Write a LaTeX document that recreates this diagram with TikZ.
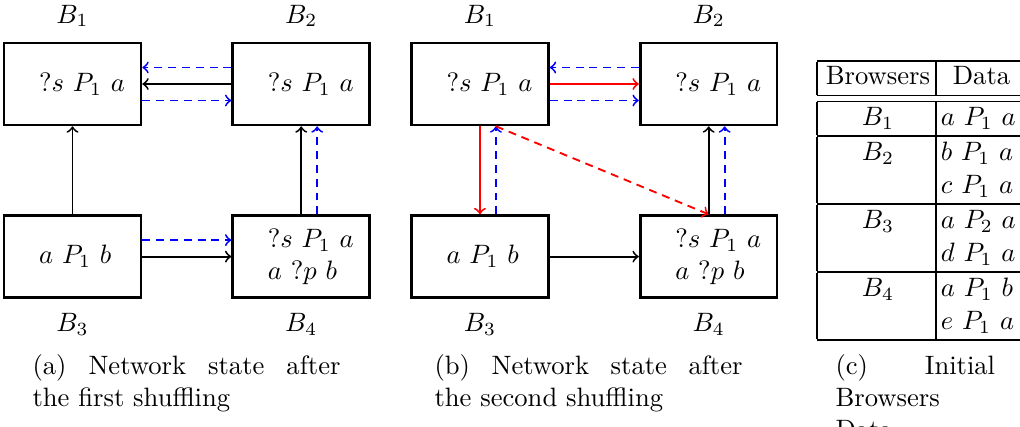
\documentclass[tikz,border=0pt]{standalone}
\usepackage{amsmath,amssymb}
\usepackage{tikz}
\usetikzlibrary{positioning}

\tikzset{
  brw/.style={draw, line width=1pt, minimum width=51.5pt, minimum height=30.8pt,
    text width=51.5pt, inner xsep=0pt, align=left},
  msg/.style={->, line width=0.7pt},
  shf/.style={->, line width=0.7pt, blue, dash pattern=on 3pt off 2.2pt},
  captxt/.style={anchor=north west, inner sep=0pt, align=justify}
}
\newcommand{\ind}{\hspace*{13.2pt}}

\begin{document}
\begin{tikzpicture}[x=0.376pt, y=-0.376pt]
  \useasboundingbox (0,0) rectangle (1020,426);

  % Define nodes (first shuffling)
  \node[brw]                     (a1) at (72.5,84) {\ind$?s\ P_1\ a$};
  \node[brw, right=33.5pt of a1] (a2) {\ind$?s\ P_1\ a$};
  \node[brw, below=33.1pt of a1] (a3) {\ind$a\ P_1\ b$};
  \node[brw, below=33.1pt of a2] (a4) {\ind$?s\ P_1\ a$\\\ind$a\ ?p\ b$};
  \node[above=2pt of a1] (la1) {$B_1$};
  \node[above=2pt of a2] (la2) {$B_2$};
  \node[below=2pt of a3] (la3) {$B_3$};
  \node[below=2pt of a4] (la4) {$B_4$};

  % Define nodes (second shuffling)
  \node[brw, right=14.7pt of a2] (b1) {\ind$?s\ P_1\ a$};
  \node[brw, right=33.5pt of b1] (b2) {\ind$?s\ P_1\ a$};
  \node[brw, below=33.1pt of b1] (b3) {\ind$a\ P_1\ b$};
  \node[brw, below=33.1pt of b2] (b4) {\ind$?s\ P_1\ a$\\\ind$a\ ?p\ b$};
  \node[above=2pt of b1] (lb1) {$B_1$};
  \node[above=2pt of b2] (lb2) {$B_2$};
  \node[below=2pt of b3] (lb3) {$B_3$};
  \node[below=2pt of b4] (lb4) {$B_4$};

  % Connect the nodes
  \draw[shf] ([yshift=6.2pt]a2.west) -- ([yshift=6.2pt]a1.east);
  \draw[msg] (a2) -- (a1);
  \draw[shf] ([yshift=-6.2pt]a1.east) -- ([yshift=-6.2pt]a2.west);
  \draw[msg] (a3) -- (a1);
  \draw[msg] (a4) -- (a2);
  \draw[shf] ([xshift=6pt]a4.north) -- ([xshift=6pt]a2.south);
  \draw[shf] ([yshift=6.2pt]a3.east) -- ([yshift=6.2pt]a4.west);
  \draw[msg] (a3) -- (a4);

  \draw[shf] ([yshift=6.2pt]b2.west) -- ([yshift=6.2pt]b1.east);
  \draw[msg, red] (b1) -- (b2);
  \draw[shf] ([yshift=-6.2pt]b1.east) -- ([yshift=-6.2pt]b2.west);
  \draw[msg, red] (b1) -- (b3);
  \draw[shf] ([xshift=6pt]b3.north) -- ([xshift=6pt]b1.south);
  \draw[msg, red, dash pattern=on 3pt off 2.2pt] ([xshift=6pt]b1.south) -- (b4.north);
  \draw[msg] (b4) -- (b2);
  \draw[shf] ([xshift=6pt]b4.north) -- ([xshift=6pt]b2.south);
  \draw[msg] (b3) -- (b4);

  % Initial data table
  \node[anchor=north west, inner sep=0pt] (tab) at (816.5,59.5) {%
    \setlength{\arrayrulewidth}{0.6pt}%
    \setlength{\doublerulesep}{2.2pt}%
    \renewcommand{\arraystretch}{1.04}%
    \begin{tabular}{|@{\hspace{3pt}}c@{\hspace{2.3pt}}|@{\hspace{1.5pt}}l@{\hspace{6pt}}|}
      \hline
      Browsers & \hspace{4.5pt}Data \\
      \hline\hline
      $B_1$ & $a\ P_1\ a$ \\
      \hline
      $B_2$ & $b\ P_1\ a$ \\
            & $c\ P_1\ a$ \\
      \hline
      $B_3$ & $a\ P_2\ a$ \\
            & $d\ P_1\ a$ \\
      \hline
      $B_4$ & $a\ P_1\ b$ \\
            & $e\ P_1\ a$ \\
      \hline
    \end{tabular}};

  % Captions
  \node[captxt, text width=115.8pt] (capa) at (32,354)
    {(a) Network state after\linebreak the first shuffling};
  \node[captxt, text width=115.8pt] (capb) at (434,354)
    {(b) Network state after\linebreak the second shuffling};
  \node[captxt, text width=60pt] (capc) at (835,354)
    {(c) Initial\linebreak Browsers\newline Data};
\end{tikzpicture}
\end{document}
